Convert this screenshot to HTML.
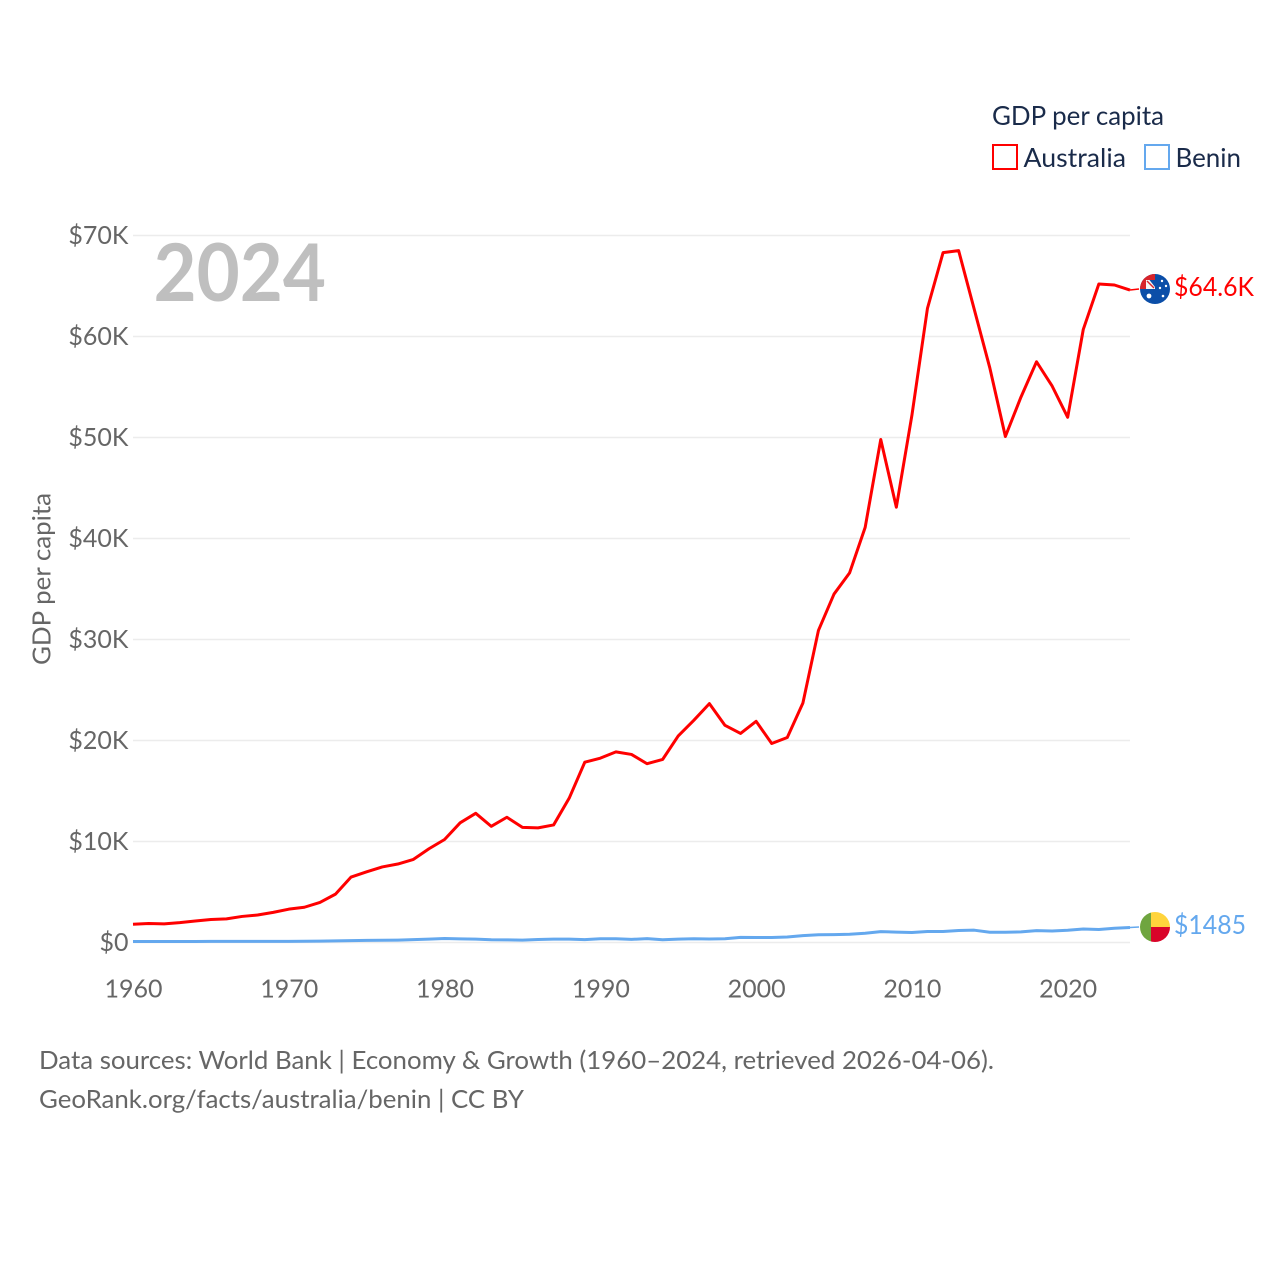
<!DOCTYPE html>
<html lang="en">
<head>
<meta charset="utf-8">
<title>GDP per capita: Australia and Benin</title>
<style>
html,body{margin:0;padding:0;background:#fff;width:1280px;height:1280px;overflow:hidden}
svg{display:block}
text{font-family:"Lato","Carlito","Liberation Sans",sans-serif}
</style>
</head>
<body>
<svg id="chart" width="1280" height="1280" viewBox="0 0 1280 1280" xmlns="http://www.w3.org/2000/svg">
  <defs>
    <clipPath id="clip-au"><circle cx="1155" cy="289" r="15"/></clipPath>
    <clipPath id="clip-bj"><circle cx="1155" cy="927" r="15"/></clipPath>
  </defs>
  <rect width="1280" height="1280" fill="#fff"/>
  <g id="grid"></g>
  <g id="yticks"></g>
  <g id="xticks"></g>
  <text x="153.5" y="301" font-size="80" font-weight="700" fill="#bfbfbf" textLength="172.5" lengthAdjust="spacingAndGlyphs">2024</text>
  <text transform="translate(50.5,665) rotate(-90)" font-size="25" fill="#666" textLength="172" lengthAdjust="spacingAndGlyphs">GDP per capita</text>
  <g id="series"></g>
  <g>
    <text x="992" y="125" font-size="26" fill="#1a2b4a" textLength="172" lengthAdjust="spacingAndGlyphs">GDP per capita</text>
    <rect x="993" y="145" width="24" height="24" fill="#fff" stroke="#ff0000" stroke-width="2"/>
    <text x="1023.5" y="167" font-size="26" fill="#1a2b4a" textLength="102.5" lengthAdjust="spacingAndGlyphs">Australia</text>
    <rect x="1145" y="145" width="24" height="24" fill="#fff" stroke="#64a8ee" stroke-width="2"/>
    <text x="1175.5" y="167" font-size="26" fill="#1a2b4a" textLength="65.5" lengthAdjust="spacingAndGlyphs">Benin</text>
  </g>
  <g clip-path="url(#clip-au)">
    <rect x="1140" y="274" width="30" height="30" fill="#0b4ea8"/>
    <rect x="1140" y="274" width="15" height="15" fill="#d8232a"/>
    <rect x="1146" y="280" width="9" height="9" fill="#f6f6f6"/>
    <path d="M1149.5 280H1155V287Z" fill="#0b4ea8"/>
    <path d="M1147 281L1154 288" stroke="#d8232a" stroke-width="1.4"/>
    <circle cx="1149" cy="296" r="2.4" fill="#fff"/>
    <circle cx="1162" cy="281" r="1.2" fill="#fff"/>
    <circle cx="1166" cy="286" r="1.2" fill="#fff"/>
    <circle cx="1160" cy="288" r="1.2" fill="#fff"/>
    <circle cx="1163" cy="296" r="1.3" fill="#fff"/>
  </g>
  <g clip-path="url(#clip-bj)">
    <rect x="1140" y="912" width="11" height="30" fill="#6fa53f"/>
    <rect x="1151" y="912" width="19" height="15" fill="#ffd43c"/>
    <rect x="1151" y="927" width="19" height="15" fill="#d90429"/>
  </g>
  <text x="1174" y="296" font-size="26" fill="#ff0000" textLength="80" lengthAdjust="spacingAndGlyphs">$64.6K</text>
  <text x="1174" y="934" font-size="26" fill="#64a8ee" textLength="72" lengthAdjust="spacingAndGlyphs">$1485</text>
  <text x="39" y="1069" font-size="25" fill="#666" textLength="955" lengthAdjust="spacingAndGlyphs">Data sources: World Bank | Economy &amp; Growth (1960–2024, retrieved 2026-04-06).</text>
  <text x="39" y="1108" font-size="25" fill="#666" textLength="485" lengthAdjust="spacingAndGlyphs">GeoRank.org/facts/australia/benin | CC BY</text>
</svg>
<script>
const firstYear = 1960;
const yTickValues = [0, 10, 20, 30, 40, 50, 60, 70];
const yTickLabels = ["$0", "$10K", "$20K", "$30K", "$40K", "$50K", "$60K", "$70K"];
const xTickValues = [1960, 1970, 1980, 1990, 2000, 2010, 2020];
const xTickLabels = ["1960", "1970", "1980", "1990", "2000", "2010", "2020"];
const australiaValues = [1.81,1.88,1.85,1.97,2.13,2.28,2.34,2.58,2.72,2.98,3.30,3.49,3.97,4.79,6.48,7.00,7.48,7.77,8.23,9.28,10.2,11.85,12.79,11.5,12.4,11.4,11.35,11.64,14.29,17.85,18.25,18.87,18.62,17.7,18.13,20.45,22.0,23.65,21.5,20.7,21.9,19.7,20.3,23.7,30.9,34.5,36.6,41.1,49.8,43.1,52.2,62.8,68.3,68.5,62.7,56.9,50.1,54.0,57.5,55.1,52.0,60.7,65.2,65.1,64.6];
const beninValues = [0.093,0.095,0.097,0.100,0.105,0.110,0.113,0.113,0.112,0.115,0.110,0.120,0.140,0.165,0.185,0.210,0.220,0.240,0.280,0.340,0.390,0.360,0.330,0.270,0.260,0.240,0.300,0.330,0.340,0.290,0.370,0.370,0.310,0.380,0.270,0.340,0.370,0.350,0.370,0.510,0.490,0.490,0.540,0.680,0.770,0.780,0.820,0.920,1.080,1.030,0.990,1.090,1.090,1.190,1.220,1.020,1.020,1.050,1.170,1.140,1.210,1.340,1.290,1.410,1.485];

const NS = "http://www.w3.org/2000/svg";
const xAxis = function (year) { return 133 + (year - 1960) * (1130 - 133) / 64; };
const yAxis = function (k) { return 942.5 - k * 10.1; };
const make = function (tag, attrs, parent) {
  const el = document.createElementNS(NS, tag);
  Object.keys(attrs).forEach(function (key) { el.setAttribute(key, attrs[key]); });
  parent.appendChild(el);
  return el;
};
const grid = document.getElementById("grid");
const yticks = document.getElementById("yticks");
const xticks = document.getElementById("xticks");
const series = document.getElementById("series");

yTickValues.forEach(function (v, i) {
  const line = make("line", {x1: 133, x2: 1130, y1: yAxis(v), y2: yAxis(v), stroke: "#ececec", "stroke-width": 1.5}, grid);
  
  
  const label = make("text", {x: 128.5, y: yAxis(v) + 8.5, "text-anchor": "end", "font-size": 25, fill: "#666"}, yticks);
  
  
  label.textContent = yTickLabels[i];
});
xTickValues.forEach(function (v, i) {
  const label = make("text", {x: xAxis(v) + 0.5, y: 997.5, "text-anchor": "middle", "font-size": 25, fill: "#666"}, xticks);
  
  
  label.textContent = xTickLabels[i];
});
const toPoints = function (values) {
  return values.map(function (v, i) { return xAxis(firstYear + i).toFixed(2) + "," + yAxis(v).toFixed(2); }).join(" ");
};
const beninLine = make("polyline", {points: toPoints(beninValues), fill: "none", stroke: "#64a8ee", "stroke-width": 3, "stroke-linejoin": "round"}, series);


const australiaLine = make("polyline", {points: toPoints(australiaValues), fill: "none", stroke: "#ff0000", "stroke-width": 3, "stroke-linejoin": "round"}, series);


const lastYear = firstYear + australiaValues.length - 1;
const auConnector = make("line", {x1: xAxis(lastYear), y1: yAxis(australiaValues[australiaValues.length - 1]), x2: 1139, y2: 289, stroke: "#ff0000", "stroke-width": 1.5}, series);


const bjConnector = make("line", {x1: xAxis(lastYear), y1: yAxis(beninValues[beninValues.length - 1]), x2: 1139, y2: 927, stroke: "#64a8ee", "stroke-width": 1.5}, series);


</script>
</body>
</html>
